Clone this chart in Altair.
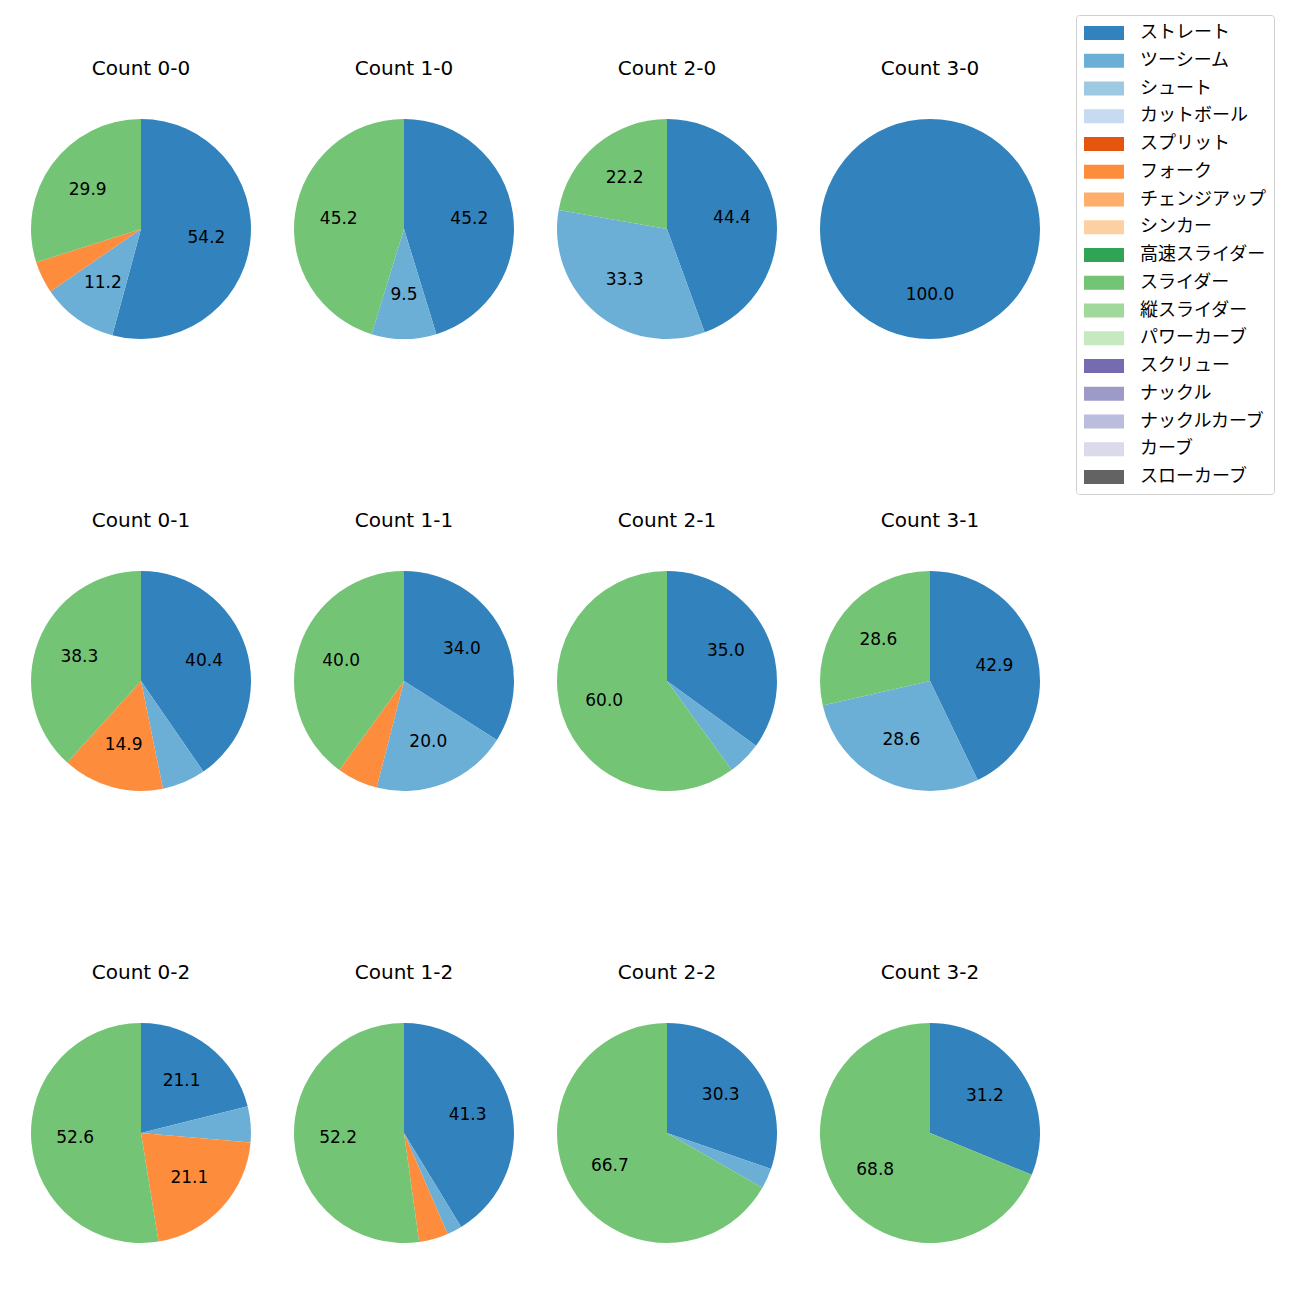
import altair as alt
import pandas as pd

counts = ["0-0", "1-0", "2-0", "3-0", "0-1", "1-1", "2-1", "3-1", "0-2", "1-2", "2-2", "3-2"]

pitch_types = ["ストレート", "ツーシーム", "シュート", "カットボール", "スプリット", "フォーク",
               "チェンジアップ", "シンカー", "高速スライダー", "スライダー", "縦スライダー",
               "パワーカーブ", "スクリュー", "ナックル", "ナックルカーブ", "カーブ", "スローカーブ"]
pitch_colors = ["#3182bd", "#6baed6", "#9ecae1", "#c6dbef", "#e6550d", "#fd8d3c",
                "#fdae6b", "#fdd0a2", "#31a354", "#74c476", "#a1d99b", "#c7e9c0",
                "#756bb1", "#9e9ac8", "#bcbddc", "#dadaeb", "#636363"]

# percentages per count (same order as counts)
straight = [54.2, 45.2, 44.4, 100.0, 40.4, 34.0, 35.0, 42.9, 21.1, 41.3, 30.3, 31.2]
twoseam = [11.2, 9.5, 33.3, 0.0, 6.4, 20.0, 5.0, 28.6, 5.3, 2.2, 3.0, 0.0]
fork = [4.7, 0.0, 0.0, 0.0, 14.9, 6.0, 0.0, 0.0, 21.1, 4.3, 0.0, 0.0]
slider = [29.9, 45.2, 22.2, 0.0, 38.3, 40.0, 60.0, 28.6, 52.6, 52.2, 66.7, 68.8]

series = {"ストレート": straight, "ツーシーム": twoseam, "フォーク": fork, "スライダー": slider}

rows = []
for i, c in enumerate(counts):
    for name, vals in series.items():
        if vals[i] > 0:
            rows.append({"count": "Count " + c, "pitch": name,
                         "order": pitch_types.index(name), "pct": vals[i]})
df = pd.DataFrame(rows)

FONT = "Noto Sans CJK JP"
LATIN = "DejaVu Sans"
color_scale = alt.Scale(domain=pitch_types, range=pitch_colors)

base = alt.Chart(df).encode(
    theta=alt.Theta("pct:Q", stack=True),
    order=alt.Order("order:Q", sort="ascending"),
)

arcs = base.mark_arc(outerRadius=110).encode(
    color=alt.Color(
        "pitch:N", scale=color_scale,
        legend=alt.Legend(
            title=None, orient="none", legendX=1055, legendY=-94,
            symbolType="M-2,-0.7L2,-0.7L2,0.7L-2,0.7Z", symbolSize=400,
            symbolOffset=10, symbolStrokeWidth=0,
            labelFont=FONT, labelFontSize=18, labelOffset=26,
            rowPadding=8.75, padding=8, strokeColor="#d0d0d0", cornerRadius=3,
            fillColor="white", labelColor="black", values=pitch_types,
        ),
    )
)

labels = base.transform_calculate(
    label="datum.pct >= 8 ? format(datum.pct, '.1f') : ''"
).mark_text(radius=66, font=LATIN, fontSize=17, color="black").encode(
    text="label:N"
)

chart = alt.layer(arcs, labels).properties(width=240, height=240).facet(
    facet=alt.Facet("count:N", sort=["Count " + c for c in counts], title=None,
                    header=alt.Header(labelFont=LATIN, labelFontSize=20, labelColor="black",
                                      labelPadding=30)),
    columns=4,
    spacing={"row": 162, "column": 23},
).properties(
    padding={"left": 13, "top": 6, "right": 5, "bottom": 5}
).configure_view(stroke=None)

chart.save("out.html", embed_options={"renderer": "svg", "actions": False})
